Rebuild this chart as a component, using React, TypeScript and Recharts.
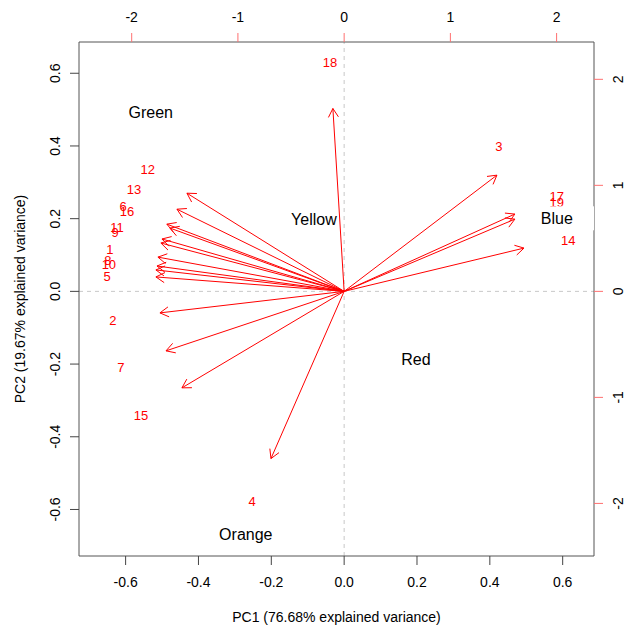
import React from 'react';
import { ScatterChart, Scatter, XAxis, YAxis, ReferenceLine } from 'recharts';

// Observation scores (PC1 / PC2 units, bottom & left axes)
const scoreLabels = ['1', '2', '3', '4', '5', '6', '7', '8', '9', '10', '11', '12', '13', '14', '15', '16', '17', '18', '19'];
const scorePC1 = [-0.643, -0.635, 0.425, -0.253, -0.651, -0.607, -0.613, -0.649, -0.629, -0.646, -0.624, -0.539, -0.577, 0.615, -0.558, -0.596, 0.584, -0.039, 0.584];
const scorePC2 = [0.114, -0.079, 0.399, -0.578, 0.042, 0.234, -0.208, 0.084, 0.163, 0.073, 0.177, 0.336, 0.281, 0.141, -0.340, 0.220, 0.261, 0.630, 0.245];

// Variable loadings (top & right axes units)
const loadingX = [-0.106, 1.438, 1.607, 1.607, 1.693, -1.480, -1.574, -1.669, -1.640, -1.715, -1.725, -1.753, -1.762, -1.772, -1.772, -1.734, -1.677, -1.527, -0.689];
const loadingY = [1.725, 1.096, 0.729, 0.681, 0.408, 0.926, 0.775, 0.634, 0.597, 0.494, 0.456, 0.323, 0.239, 0.202, 0.136, -0.203, -0.561, -0.910, -1.577];

// Group labels (PC units)
const groupNames = ['Green', 'Yellow', 'Blue', 'Red', 'Orange'];
const groupPC1 = [-0.531, -0.083, 0.584, 0.197, -0.270];
const groupPC2 = [0.493, 0.199, 0.201, -0.188, -0.669];
const boxedGroups = ['Blue'];

const pcTicks = [-0.6, -0.4, -0.2, 0, 0.2, 0.4, 0.6];
const loadTicks = [-2, -1, 0, 1, 2];
const pcDomain: [number, number] = [-0.728, 0.686];
const loadDomain: [number, number] = [-2.496, 2.352];

const xTitle = 'PC1 (76.68% explained variance)';
const yTitle = 'PC2 (19.67% explained variance)';

const FONT = '"Liberation Sans", Arial, Helvetica, sans-serif';
const RED = '#ff0000';
const BOX = '#555555';

const ArrowShape = (p: any) => {
  const { x1, y1, x2, y2 } = p;
  const ang = Math.atan2(y2 - y1, x2 - x1);
  const len = 10;
  const a = Math.PI / 6;
  const hx1 = x2 - len * Math.cos(ang - a);
  const hy1 = y2 - len * Math.sin(ang - a);
  const hx2 = x2 - len * Math.cos(ang + a);
  const hy2 = y2 - len * Math.sin(ang + a);
  return (
    <g>
      <line x1={x1} y1={y1} x2={x2} y2={y2} stroke={RED} strokeWidth={1} />
      <path d={`M${hx1},${hy1}L${x2},${y2}L${hx2},${hy2}`} stroke={RED} strokeWidth={1} fill="none" />
    </g>
  );
};

const BottomTick = (p: any) => (
  <text x={p.x} y={582} dy="0.35em" textAnchor="middle" fontSize={14} fontFamily={FONT} fill="#000">
    {Number(p.payload.value).toFixed(1)}
  </text>
);
const TopTick = (p: any) => (
  <text x={p.x} y={17} dy="0.35em" textAnchor="middle" fontSize={14} fontFamily={FONT} fill="#000">
    {String(p.payload.value)}
  </text>
);
const LeftTick = (p: any) => (
  <text x={55} y={p.y} dy="0.35em" textAnchor="middle" fontSize={14} fontFamily={FONT} fill="#000" transform={`rotate(-90, 55, ${p.y})`}>
    {Number(p.payload.value).toFixed(1)}
  </text>
);
const RightTick = (p: any) => (
  <text x={618} y={p.y} dy="0.35em" textAnchor="middle" fontSize={14} fontFamily={FONT} fill="#000" transform={`rotate(-90, 618, ${p.y})`}>
    {String(p.payload.value)}
  </text>
);

const ScoreShape = (p: any) => (
  <text x={p.cx} y={p.cy} dy="0.35em" textAnchor="middle" fontSize={13} fontFamily={FONT} fill={RED}>
    {p.payload.label}
  </text>
);

const GroupShape = (p: any) => {
  const boxed = boxedGroups.includes(p.payload.label);
  return (
    <g>
      {boxed && <rect x={p.cx - 38} y={p.cy - 12} width={76} height={24} fill="#ffffff" />}
      <text x={p.cx} y={p.cy} dy="0.35em" textAnchor="middle" fontSize={16} fontFamily={FONT} fill="#000">
        {p.payload.label}
      </text>
    </g>
  );
};

export default function App() {
  const scores = scoreLabels.map((l, i) => ({ x: scorePC1[i], y: scorePC2[i], label: l }));
  const loads = loadingX.map((x, i) => ({ x, y: loadingY[i] }));
  const groups = groupNames.map((g, i) => ({ x: groupPC1[i], y: groupPC2[i], label: g }));

  return (
    <div style={{ position: 'absolute', left: 0, top: 0, width: 626, height: 628, background: '#fff' }}>
      <ScatterChart width={626} height={628} margin={{ top: 0, right: 0, bottom: 0, left: 0 }}>
        <XAxis xAxisId="bottom" orientation="bottom" type="number" dataKey="x" domain={pcDomain} ticks={pcTicks}
          allowDataOverflow interval={0} height={72} tickSize={9} axisLine={{ stroke: BOX }} tickLine={{ stroke: '#444' }} tick={<BottomTick />} />
        <XAxis xAxisId="top" orientation="top" type="number" dataKey="x" domain={loadDomain} ticks={loadTicks}
          allowDataOverflow interval={0} height={42} tickSize={9} axisLine={{ stroke: BOX }} tickLine={{ stroke: '#ff7070' }} tick={<TopTick />} />
        <YAxis yAxisId="left" orientation="left" type="number" dataKey="y" domain={pcDomain} ticks={pcTicks}
          allowDataOverflow interval={0} width={79} tickSize={9} axisLine={{ stroke: BOX }} tickLine={{ stroke: '#444' }} tick={<LeftTick />} />
        <YAxis yAxisId="right" orientation="right" type="number" dataKey="y" domain={loadDomain} ticks={loadTicks}
          allowDataOverflow interval={0} width={32} tickSize={9} axisLine={{ stroke: BOX }} tickLine={{ stroke: '#ff7070' }} tick={<RightTick />} />

        <ReferenceLine xAxisId="bottom" yAxisId="left" x={0} stroke="#c8c8c8" strokeDasharray="4 4" />
        <ReferenceLine xAxisId="bottom" yAxisId="left" y={0} stroke="#c8c8c8" strokeDasharray="4 4" />

        {loads.map((d, i) => (
          <ReferenceLine key={'a' + i} xAxisId="top" yAxisId="right" ifOverflow="visible"
            segment={[{ x: 0, y: 0 }, { x: d.x, y: d.y }]} shape={ArrowShape} />
        ))}

        <Scatter xAxisId="top" yAxisId="right" data={loads} shape={() => <g />} isAnimationActive={false} />
        <Scatter xAxisId="bottom" yAxisId="left" data={scores} shape={ScoreShape} isAnimationActive={false} />
        <Scatter xAxisId="bottom" yAxisId="left" data={groups} shape={GroupShape} isAnimationActive={false} />
      </ScatterChart>
      <svg width={626} height={628} style={{ position: 'absolute', left: 0, top: 0, pointerEvents: 'none' }}>
        <text x={336.5} y={617} dy="0.35em" textAnchor="middle" fontSize={14} fontFamily={FONT} fill="#000">{xTitle}</text>
        <text x={20} y={299} dy="0.35em" textAnchor="middle" fontSize={14} fontFamily={FONT} fill="#000" transform="rotate(-90, 20, 299)">{yTitle}</text>
      </svg>
    </div>
  );
}
